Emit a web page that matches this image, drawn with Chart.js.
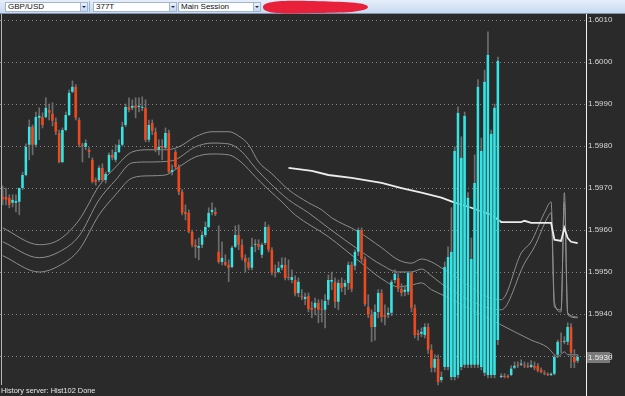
<!DOCTYPE html>
<html>
<head>
<meta charset="utf-8">
<script src="https://cdn.jsdelivr.net/npm/chart.js@4/dist/chart.umd.min.js"></script>
<style>
  html, body { margin:0; padding:0; }
  body { width:625px; height:396px; overflow:hidden; background:#2a2a2a; position:relative; font-family:"Liberation Sans", Arial, sans-serif; }
  #tb { position:absolute; left:0; top:0; width:625px; height:13px; background:linear-gradient(#e6eefa, #c8daf1); border-bottom:1px solid #7f93ad; }
  .combo { position:absolute; top:2px; height:8px; background:#fff; border:1px solid #a3b6d0; font-size:8px; line-height:8px; color:#111; padding-left:2px; font-family:"Liberation Sans Narrow","Liberation Sans",Arial,sans-serif; white-space:nowrap; }
  .arrow { position:absolute; top:0; right:0; width:6px; height:8px; background:linear-gradient(#eaf1fb,#c4d6ee); border-left:1px solid #a3b6d0; }
  .arrow:after { content:""; position:absolute; left:1px; top:3px; border-left:2px solid transparent; border-right:2px solid transparent; border-top:2px solid #1e2f4d; }
  .sep { position:absolute; top:1px; width:1px; height:11px; background:#9fb3cf; }
  #wrap { position:absolute; left:0; top:14px; width:625px; height:382px; }
  #status { position:absolute; left:1px; top:386px; font-size:7.4px; line-height:9px; color:#e8e8e8; white-space:nowrap; }
</style>
</head>
<body>
<div id="tb">
  <div class="combo" style="left:5px; width:79px;">GBP/USD<div class="arrow"></div></div>
  <div class="sep" style="left:89px;"></div>
  <div class="combo" style="left:93px; width:80px;">377T<div class="arrow"></div></div>
  <div class="combo" style="left:178px; width:79px;">Main Session<div class="arrow"></div></div>
  <svg style="position:absolute; left:261px; top:0;" width="110" height="15">
    <path d="M2,7 C2,1 22,0 52,1 C82,2 106,2 107,7 C106,12 82,13 52,13 C22,14 2,14 2,7 Z" fill="#e8203a"/>
  </svg>
</div>
<div id="wrap"><canvas id="c" width="625" height="382"></canvas></div>
<div id="status">History server: Hist102 Done</div>
<script>
// ---- candle data (index 0..173) ----
const open = [
1.59679,1.59679,1.59677,1.59665,1.59665,1.59667,1.59700,1.59731,1.59803,1.59846,
1.59803,1.59867,1.59869,1.59869,1.59886,1.59877,1.59857,1.59831,1.59762,1.59838,
1.59874,1.59929,1.59941,1.59862,1.59803,1.59798,1.59791,1.59767,1.59719,1.59719,
1.59748,1.59719,1.59738,1.59779,1.59767,1.59786,1.59803,1.59850,1.59893,1.59891,
1.59896,1.59893,1.59891,1.59891,1.59815,1.59855,1.59834,1.59791,1.59800,1.59796,
1.59831,1.59738,1.59786,1.59750,1.59691,1.59643,1.59641,1.59596,1.59565,1.59558,
1.59565,1.59588,1.59607,1.59643,1.59643,1.59548,1.59524,1.59524,1.59517,1.59512,
1.59560,1.59588,1.59565,1.59534,1.59524,1.59510,1.59565,1.59567,1.59541,1.59569,
1.59607,1.59553,1.59500,1.59500,1.59510,1.59517,1.59488,1.59481,1.59481,1.59450,
1.59443,1.59436,1.59443,1.59415,1.59415,1.59427,1.59412,1.59410,1.59434,1.59477,
1.59477,1.59429,1.59474,1.59465,1.59474,1.59517,1.59515,1.59548,1.59600,1.59531,
1.59417,1.59398,1.59369,1.59405,1.59450,1.59398,1.59398,1.59403,1.59481,1.59486,
1.59460,1.59453,1.59453,1.59498,1.59415,1.59355,1.59353,1.59350,1.59369,1.59315,
1.59272,1.59293,1.59243,1.59274,1.59274,1.59250,1.59250,1.59255,1.59274,1.59279,
1.59279,1.59279,1.59279,1.59279,1.59274,1.59260,1.59255,1.59255,1.59255,1.59338,
1.59250,1.59253,1.59253,1.59255,1.59272,1.59279,1.59279,1.59279,1.59277,1.59274,
1.59277,1.59277,1.59267,1.59260,1.59258,1.59255,1.59258,1.59303,1.59336,1.59334,
1.59334,1.59369,1.59298,1.59289];
const high = [
1.59705,1.59700,1.59684,1.59684,1.59684,1.59700,1.59738,1.59805,1.59862,1.59850,
1.59881,1.59891,1.59879,1.59915,1.59900,1.59903,1.59867,1.59838,1.59843,1.59881,
1.59934,1.59955,1.59946,1.59867,1.59807,1.59815,1.59796,1.59772,1.59724,1.59753,
1.59758,1.59738,1.59784,1.59791,1.59803,1.59815,1.59857,1.59900,1.59915,1.59910,
1.59915,1.59915,1.59917,1.59910,1.59862,1.59862,1.59843,1.59815,1.59815,1.59843,
1.59838,1.59755,1.59791,1.59755,1.59696,1.59660,1.59648,1.59600,1.59577,1.59581,
1.59596,1.59619,1.59653,1.59665,1.59653,1.59610,1.59572,1.59541,1.59529,1.59562,
1.59610,1.59612,1.59577,1.59541,1.59534,1.59581,1.59577,1.59577,1.59569,1.59619,
1.59612,1.59558,1.59517,1.59524,1.59534,1.59534,1.59529,1.59505,1.59491,1.59486,
1.59458,1.59450,1.59450,1.59429,1.59438,1.59434,1.59434,1.59446,1.59493,1.59500,
1.59486,1.59481,1.59486,1.59481,1.59524,1.59524,1.59553,1.59605,1.59605,1.59536,
1.59446,1.59410,1.59422,1.59458,1.59458,1.59422,1.59415,1.59481,1.59505,1.59496,
1.59472,1.59467,1.59500,1.59500,1.59422,1.59362,1.59367,1.59377,1.59377,1.59327,
1.59303,1.59303,1.59262,1.59524,1.59560,1.59653,1.59798,1.59893,1.59822,1.59881,
1.59689,1.59581,1.59779,1.59958,1.59819,1.59981,1.60072,1.59838,1.59900,1.60012,
1.59258,1.59258,1.59255,1.59277,1.59286,1.59286,1.59291,1.59286,1.59284,1.59289,
1.59286,1.59282,1.59272,1.59265,1.59260,1.59260,1.59303,1.59338,1.59355,1.59346,
1.59379,1.59377,1.59315,1.59303];
const low = [
1.59660,1.59660,1.59653,1.59655,1.59643,1.59636,1.59696,1.59729,1.59767,1.59779,
1.59798,1.59815,1.59843,1.59867,1.59862,1.59848,1.59827,1.59760,1.59760,1.59836,
1.59872,1.59927,1.59862,1.59798,1.59762,1.59791,1.59772,1.59712,1.59707,1.59715,
1.59715,1.59712,1.59736,1.59767,1.59762,1.59784,1.59800,1.59846,1.59881,1.59886,
1.59867,1.59881,1.59884,1.59810,1.59810,1.59827,1.59786,1.59779,1.59767,1.59791,
1.59736,1.59731,1.59743,1.59684,1.59636,1.59624,1.59593,1.59560,1.59534,1.59529,
1.59558,1.59584,1.59605,1.59636,1.59634,1.59521,1.59517,1.59515,1.59477,1.59510,
1.59558,1.59553,1.59529,1.59500,1.59505,1.59505,1.59548,1.59553,1.59534,1.59565,
1.59548,1.59493,1.59488,1.59498,1.59505,1.59481,1.59481,1.59474,1.59443,1.59441,
1.59434,1.59422,1.59405,1.59391,1.59398,1.59379,1.59381,1.59367,1.59422,1.59458,
1.59415,1.59410,1.59453,1.59446,1.59458,1.59453,1.59505,1.59539,1.59524,1.59419,
1.59391,1.59334,1.59338,1.59391,1.59381,1.59374,1.59391,1.59396,1.59474,1.59453,
1.59443,1.59443,1.59446,1.59405,1.59343,1.59338,1.59346,1.59343,1.59306,1.59262,
1.59262,1.59231,1.59238,1.59267,1.59267,1.59243,1.59243,1.59248,1.59267,1.59272,
1.59272,1.59272,1.59272,1.59272,1.59267,1.59253,1.59248,1.59248,1.59248,1.59327,
1.59248,1.59248,1.59248,1.59253,1.59270,1.59272,1.59277,1.59272,1.59272,1.59272,
1.59267,1.59262,1.59260,1.59255,1.59253,1.59253,1.59255,1.59296,1.59308,1.59329,
1.59327,1.59272,1.59272,1.59284];
const close = [
1.59674,1.59672,1.59660,1.59672,1.59669,1.59700,1.59731,1.59798,1.59846,1.59803,
1.59869,1.59872,1.59850,1.59891,1.59879,1.59860,1.59834,1.59762,1.59838,1.59874,
1.59927,1.59941,1.59867,1.59803,1.59800,1.59807,1.59786,1.59715,1.59715,1.59748,
1.59719,1.59734,1.59779,1.59772,1.59786,1.59803,1.59846,1.59893,1.59886,1.59896,
1.59891,1.59896,1.59893,1.59815,1.59850,1.59836,1.59791,1.59798,1.59796,1.59831,
1.59738,1.59743,1.59750,1.59691,1.59641,1.59638,1.59596,1.59565,1.59560,1.59562,
1.59588,1.59607,1.59641,1.59648,1.59638,1.59524,1.59534,1.59517,1.59510,1.59558,
1.59588,1.59565,1.59534,1.59524,1.59510,1.59560,1.59567,1.59560,1.59565,1.59607,
1.59553,1.59498,1.59498,1.59510,1.59517,1.59486,1.59486,1.59488,1.59448,1.59477,
1.59441,1.59441,1.59412,1.59410,1.59427,1.59410,1.59410,1.59431,1.59481,1.59481,
1.59429,1.59474,1.59462,1.59474,1.59517,1.59460,1.59548,1.59600,1.59531,1.59424,
1.59398,1.59369,1.59405,1.59450,1.59393,1.59393,1.59403,1.59477,1.59496,1.59460,
1.59450,1.59458,1.59498,1.59415,1.59350,1.59350,1.59358,1.59369,1.59315,1.59272,
1.59293,1.59238,1.59250,1.59512,1.59536,1.59548,1.59788,1.59879,1.59772,1.59872,
1.59677,1.59531,1.59712,1.59941,1.59788,1.59953,1.60017,1.59829,1.59891,1.60003,
1.59253,1.59250,1.59250,1.59270,1.59277,1.59277,1.59282,1.59277,1.59274,1.59279,
1.59272,1.59265,1.59262,1.59258,1.59255,1.59258,1.59298,1.59334,1.59334,1.59336,
1.59369,1.59308,1.59286,1.59298];

// ---- indicator lines (candle index -> price) ----
const upperIdx = [0,11,17,23,29,34,39,44,49,53,58,63,68,71,74,77,81,86,92,96,99,107,114,119,123,126,129,133,150,156,159,163,165,166,168,169,170,173];
const upperVal = [1.59605,1.59565,1.59577,1.59624,1.59705,1.59750,1.59786,1.59791,1.59791,1.59798,1.59822,1.59834,1.59834,1.59824,1.59803,1.59762,1.59734,1.59696,1.59665,1.59648,1.59629,1.59596,1.59558,1.59529,1.59521,1.59531,1.59524,1.59505,1.59434,1.59545,1.59572,1.59641,1.59667,1.59427,1.59405,1.59689,1.59403,1.59393];
const midIdx = [0,11,17,23,29,34,39,44,51,58,63,68,72,76,80,86,92,98,108,114,119,123,126,129,133,150,157,160,164,165,166,168,169,170,173];
const midVal = [1.59572,1.59534,1.59548,1.59586,1.59672,1.59719,1.59760,1.59762,1.59765,1.59798,1.59807,1.59805,1.59786,1.59748,1.59715,1.59672,1.59641,1.59605,1.59548,1.59517,1.59500,1.59500,1.59507,1.59491,1.59467,1.59410,1.59521,1.59560,1.59631,1.59641,1.59417,1.59410,1.59665,1.59398,1.59391];
const lowerIdx = [0,11,17,23,29,34,39,44,49,53,58,63,68,72,76,80,84,88,98,108,114,119,123,126,129,133,150,159,164,166,167,169,170,173];
const lowerVal = [1.59539,1.59500,1.59515,1.59553,1.59636,1.59684,1.59724,1.59729,1.59731,1.59750,1.59774,1.59781,1.59779,1.59760,1.59727,1.59696,1.59667,1.59636,1.59584,1.59521,1.59484,1.59465,1.59469,1.59474,1.59458,1.59443,1.59374,1.59338,1.59320,1.59303,1.59298,1.59310,1.59303,1.59303];
const whiteIdx = [86,93,98,105,114,120,126,132,136,141,147,150,156,157,159,165,166,168,169,170,171,173];
const whiteVal = [1.59748,1.59741,1.59731,1.59724,1.59712,1.59700,1.59689,1.59677,1.59665,1.59653,1.59636,1.59619,1.59619,1.59622,1.59617,1.59617,1.59577,1.59574,1.59605,1.59581,1.59572,1.59569];

// ---- axis ----
const tickValues = [1.5930,1.5940,1.5950,1.5960,1.5970,1.5980,1.5990,1.6000,1.6010];
const yMin = 1.592048, yMax = 1.601143;
const xMin = -0.8, xMax = 175.5;

const UP = '#30e6e6', DOWN = '#f5471a', WICK = '#6e6e6e', BAND = '#8e8e8e';

const pts = (idx, val) => idx.map((x, k) => ({x, y: val[k]}));
const bodies = open.map((o, i) => ({x: i, y: [o, close[i]]}));
const wicks = low.map((l, i) => ({x: i, y: [l, high[i]]}));
const bodyColors = open.map((o, i) => close[i] >= o ? UP : DOWN);

const decor = {
  id: 'decor',
  afterDraw(chart) {
    const ctx = chart.ctx, a = chart.chartArea, ys = chart.scales.y;
    ctx.save();
    ctx.strokeStyle = '#b5b5b5'; ctx.lineWidth = 1;
    ctx.beginPath(); ctx.moveTo(1.5, 0); ctx.lineTo(1.5, 371); ctx.stroke();
    ctx.strokeStyle = '#f2f2f2';
    ctx.beginPath(); ctx.moveTo(a.right + 0.5, 0); ctx.lineTo(a.right + 0.5, chart.height); ctx.stroke();
    const last = close[close.length - 1];
    const y = Math.round(ys.getPixelForValue(last));
    ctx.fillStyle = '#7a7a7a';
    ctx.fillRect(a.right + 1, y - 5, 23, 11);
    ctx.fillStyle = '#eeeeee';
    ctx.font = '8px "Liberation Sans", Arial, sans-serif';
    ctx.textBaseline = 'middle'; ctx.textAlign = 'left';
    ctx.fillText(last.toFixed(4), a.right + 2, y + 0.5);
    ctx.restore();
  }
};

new Chart(document.getElementById('c'), {
  type: 'bar',
  data: {
    datasets: [
      { type:'line', data: pts(upperIdx, upperVal), borderColor: BAND, borderWidth: 1, pointRadius: 0, cubicInterpolationMode: 'monotone', order: 5 },
      { type:'line', data: pts(midIdx, midVal), borderColor: BAND, borderWidth: 1, pointRadius: 0, cubicInterpolationMode: 'monotone', order: 5 },
      { type:'line', data: pts(lowerIdx, lowerVal), borderColor: BAND, borderWidth: 1, pointRadius: 0, cubicInterpolationMode: 'monotone', order: 5 },
      { type:'line', data: pts(whiteIdx, whiteVal), borderColor: '#ececec', borderWidth: 1.8, pointRadius: 0, tension: 0, order: 4 },
      { type:'bar', data: wicks, backgroundColor: WICK, barThickness: 1, grouped: false, order: 2 },
      { type:'bar', data: bodies, backgroundColor: bodyColors, borderColor: '#4a4a4a', borderWidth: {left: 0, right: 0.6, top: 0, bottom: 0}, borderSkipped: false, barThickness: 2.8, grouped: false, minBarLength: 1, order: 1 }
    ]
  },
  options: {
    responsive: false,
    maintainAspectRatio: false,
    devicePixelRatio: 1,
    animation: false,
    events: [],
    layout: { padding: 0 },
    plugins: { legend: { display: false }, tooltip: { enabled: false } },
    scales: {
      x: { type: 'linear', min: xMin, max: xMax, offset: false, display: false, grid: { display: false } },
      y: {
        type: 'linear', position: 'right', min: yMin, max: yMax, beginAtZero: false,
        afterBuildTicks: (s) => { s.ticks = tickValues.map(v => ({value: v})); },
        afterFit: (s) => { s.width = 39; s.paddingTop = 0; s.paddingBottom = 0; },
        grid: { color: '#858585', lineWidth: 1, drawTicks: false },
        border: { display: false, dash: [1, 3] },
        ticks: { padding: 2, color: '#d6d6d6', font: { family: '"Liberation Sans", Arial, sans-serif', size: 8 }, callback: (v) => Number(v).toFixed(4) }
      }
    }
  },
  plugins: [decor]
});
</script>
</body>
</html>
